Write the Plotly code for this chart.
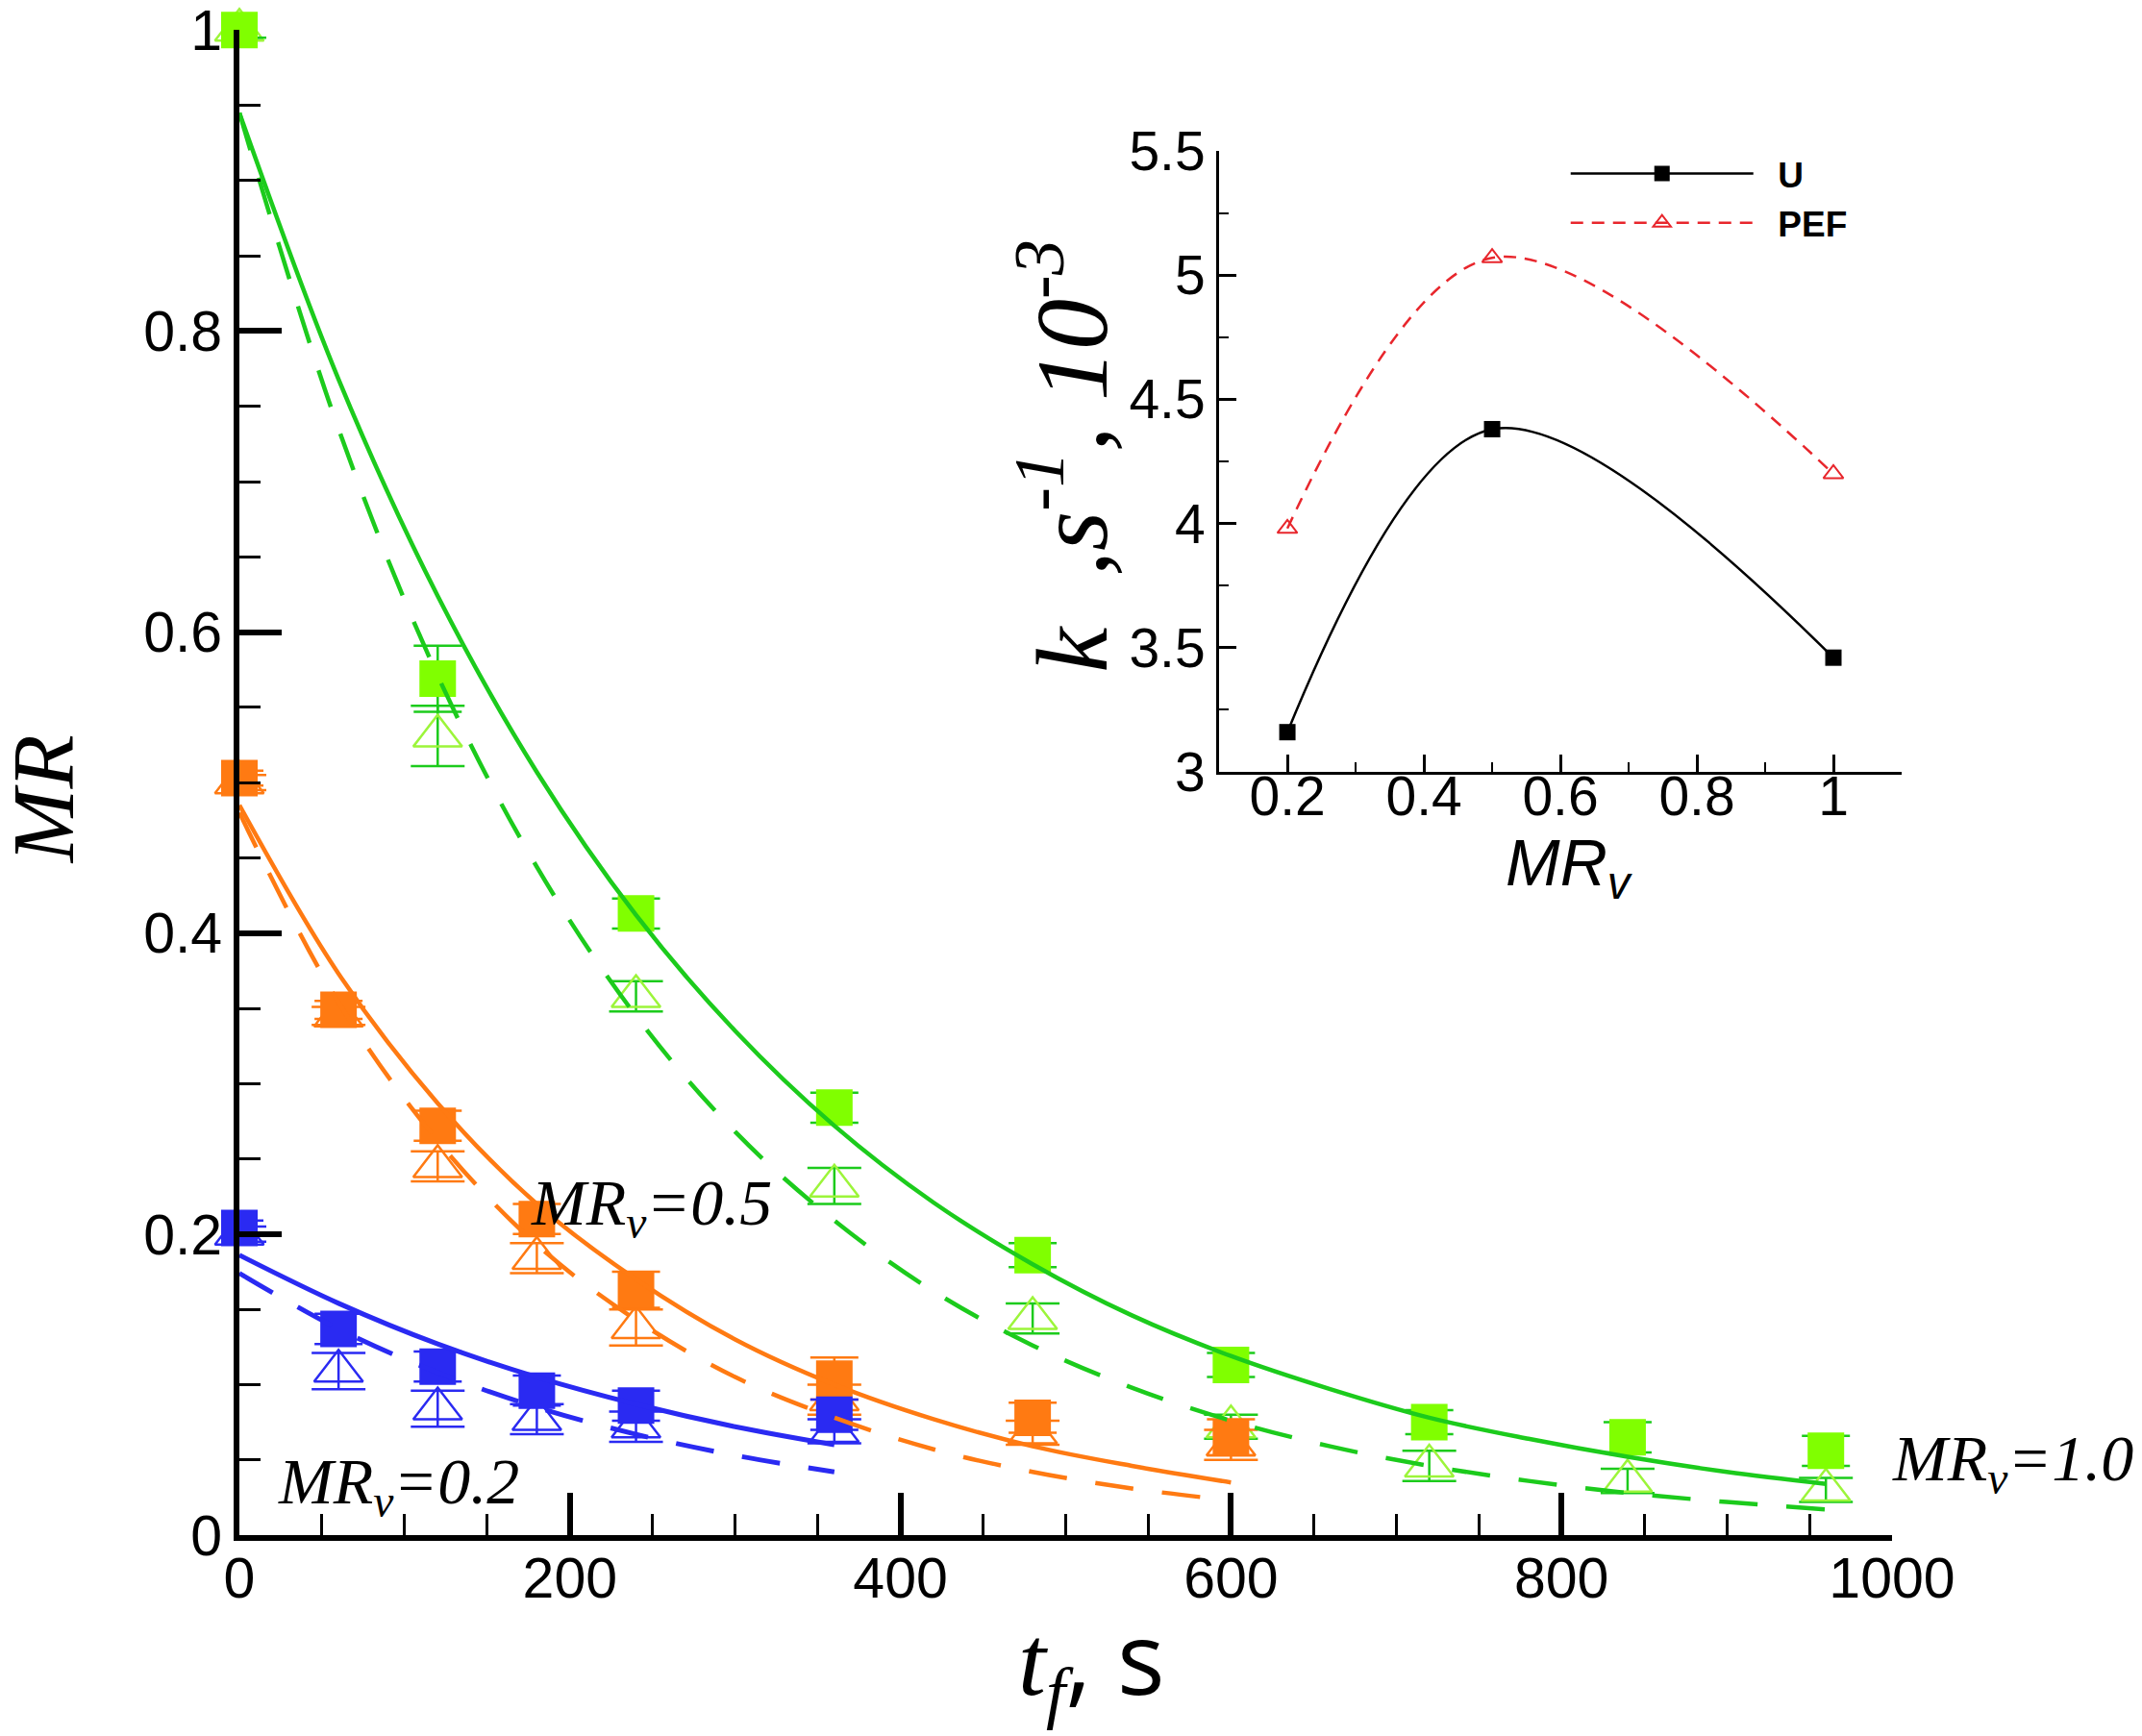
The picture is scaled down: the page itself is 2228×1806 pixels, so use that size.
import plotly.graph_objects as go

# ---- data ----
# MRv = 1.0
t_10 = [0, 120, 240, 360, 480, 600, 720, 840, 960]
u_10 = [1.0, 0.569, 0.413, 0.284, 0.186, 0.113, 0.075, 0.065, 0.056]
u_10_err = [0.005, 0.022, 0.010, 0.010, 0.008, 0.008, 0.008, 0.010, 0.010]
pef_10 = [1.0, 0.531, 0.358, 0.232, 0.144, 0.072, 0.046, 0.036, 0.030]
pef_10_err = [0.005, 0.020, 0.010, 0.012, 0.010, 0.008, 0.010, 0.008, 0.008]

# MRv = 0.5
t_05 = [0, 60, 120, 180, 240, 360, 480, 600]
u_05 = [0.503, 0.349, 0.272, 0.210, 0.163, 0.104, 0.078, 0.065]
u_05_err = [0.005, 0.006, 0.010, 0.010, 0.012, 0.014, 0.010, 0.012]
pef_05 = [0.500, 0.345, 0.245, 0.184, 0.138, 0.090, 0.068, 0.060]
pef_05_err = [0.005, 0.006, 0.010, 0.010, 0.012, 0.010, 0.008, 0.010]

# MRv = 0.2
t_02 = [0, 60, 120, 180, 240, 360]
u_02 = [0.204, 0.137, 0.112, 0.096, 0.086, 0.080]
u_02_err = [0.005, 0.010, 0.010, 0.010, 0.010, 0.010]
pef_02 = [0.200, 0.109, 0.084, 0.077, 0.072, 0.069]
pef_02_err = [0.005, 0.012, 0.012, 0.010, 0.010, 0.008]

# fitted curves
fit_t_10 = [0, 60, 120, 180, 240, 300, 360, 420, 480, 540, 600, 660, 720, 780, 840, 900, 960]
fit_u_10 = [0.945, 0.768, 0.624, 0.507, 0.412, 0.335, 0.272, 0.221, 0.180, 0.146, 0.119,
            0.097, 0.078, 0.064, 0.052, 0.042, 0.034]
fit_pef_10 = [0.945, 0.735, 0.571, 0.444, 0.345, 0.268, 0.209, 0.162, 0.126, 0.098, 0.076,
              0.059, 0.046, 0.036, 0.028, 0.022, 0.017]
fit_t_05 = [0, 60, 120, 180, 240, 300, 360, 420, 480, 540, 600]
fit_u_05 = [0.485, 0.373, 0.287, 0.220, 0.170, 0.130, 0.100, 0.077, 0.059, 0.046, 0.035]
fit_pef_05 = [0.480, 0.354, 0.262, 0.193, 0.143, 0.105, 0.078, 0.057, 0.042, 0.031, 0.023]
fit_t_02 = [0, 60, 120, 180, 240, 300, 360]
fit_u_02 = [0.186, 0.154, 0.127, 0.105, 0.087, 0.072, 0.060]
fit_pef_02 = [0.174, 0.137, 0.108, 0.085, 0.067, 0.053, 0.042]

# inset: rate constant k (x10^-3 s^-1) vs MRv
mrv = [0.2, 0.5, 1.0]
k_u = [3.16, 4.38, 3.46]
k_pef = [3.98, 5.07, 4.20]

GREEN_FILL = "#80FF00"
GREEN_LINE = "#1CCB1C"
GREEN_OPEN = "#9CF53A"
ORANGE = "#FF7A12"
BLUE = "#2A2AF2"
RED = "#E8262C"

SANS = "Liberation Sans, Arial, sans-serif"
SERIF = "Liberation Serif, Times New Roman, serif"

fig = go.Figure()

groups = [
    (t_10, u_10, u_10_err, pef_10, pef_10_err, GREEN_FILL, GREEN_OPEN, GREEN_LINE),
    (t_05, u_05, u_05_err, pef_05, pef_05_err, ORANGE, ORANGE, ORANGE),
    (t_02, u_02, u_02_err, pef_02, pef_02_err, BLUE, BLUE, BLUE),
]

# markers first, the fitted lines sit on top of them
for t, u, ue, p, pe, fill, openc, errc in groups:
    fig.add_trace(go.Scatter(
        x=t, y=p, mode="markers", showlegend=False, cliponaxis=False,
        marker=dict(symbol="triangle-up-open", size=44, color=openc, line=dict(width=2.5)),
        error_y=dict(type="data", array=pe, color=errc, thickness=2.5, width=28),
    ))
    fig.add_trace(go.Scatter(
        x=t, y=u, mode="markers", showlegend=False, cliponaxis=False,
        marker=dict(symbol="square", size=38, color=fill, line=dict(width=0)),
        error_y=dict(type="data", array=ue, color=errc, thickness=2.5, width=25),
    ))

fits = [
    (fit_t_10, fit_u_10, fit_pef_10, GREEN_LINE, 4.5),
    (fit_t_05, fit_u_05, fit_pef_05, ORANGE, 4.5),
    (fit_t_02, fit_u_02, fit_pef_02, BLUE, 5),
]
for ft, fu, fp, col, w in fits:
    fig.add_trace(go.Scatter(x=ft, y=fu, mode="lines", showlegend=False,
                             line=dict(color=col, width=w, shape="spline")))
    fig.add_trace(go.Scatter(x=ft, y=fp, mode="lines", showlegend=False,
                             line=dict(color=col, width=w, shape="spline", dash="40px,30px")))

# inset
fig.add_trace(go.Scatter(
    x=mrv, y=k_u, name="\u00a0\u00a0U", mode="lines+markers", xaxis="x2", yaxis="y2",
    cliponaxis=False,
    line=dict(color="black", width=2.5, shape="spline", smoothing=1.0),
    marker=dict(symbol="square", size=17, color="black"),
))
fig.add_trace(go.Scatter(
    x=mrv, y=k_pef, name="\u00a0\u00a0PEF", mode="lines+markers", xaxis="x2", yaxis="y2",
    cliponaxis=False,
    line=dict(color=RED, width=2.5, shape="spline", smoothing=1.0, dash="13px,9px"),
    marker=dict(symbol="triangle-up-open", size=18, color=RED, line=dict(width=2)),
))

main_axis = dict(showline=True, linecolor="black", linewidth=6, mirror=False, automargin=False,
                 showgrid=False, zeroline=False, ticks="inside", ticklen=44,
                 tickwidth=6, tickcolor="black", ticklabeloverflow="allow",
                 tickfont=dict(family=SANS, size=59, color="black"))
inset_axis = dict(showline=True, linecolor="black", linewidth=3, mirror=False, automargin=False,
                  showgrid=False, zeroline=False, ticks="inside", ticklen=18,
                  tickwidth=3, tickcolor="black", ticklabeloverflow="allow",
                  tickfont=dict(family=SANS, size=57, color="black"))

fig.update_layout(
    width=2228, height=1806, autosize=False,
    margin=dict(l=249, r=250, t=31, b=209),
    paper_bgcolor="white", plot_bgcolor="white",
    xaxis=dict(main_axis, range=[0, 1000], domain=[0, 0.9942], dtick=200, tick0=0,
               ticklabelstandoff=-12,
               minor=dict(ticks="inside", ticklen=22, tickwidth=3, dtick=50, tickcolor="black")),
    yaxis=dict(main_axis, range=[0, 1.0002], dtick=0.2, tick0=0,
               minor=dict(ticks="inside", ticklen=22, tickwidth=3, dtick=0.05, tickcolor="black")),
    xaxis2=dict(inset_axis, range=[0.1, 1.1], domain=[0.5894, 1], anchor="y2",
                dtick=0.2, tick0=0.2, ticklabelstandoff=-26,
                minor=dict(ticks="inside", ticklen=10, tickwidth=2, dtick=0.1, tickcolor="black")),
    yaxis2=dict(inset_axis, range=[3, 5.5], domain=[0.507, 0.9195], anchor="x2",
                dtick=0.5, tick0=3,
                minor=dict(ticks="inside", ticklen=10, tickwidth=2, dtick=0.25, tickcolor="black")),
    showlegend=True,
    legend=dict(x=0.798, y=0.924, xanchor="left", yanchor="top", itemwidth=190,
                bgcolor="rgba(0,0,0,0)", tracegroupgap=0,
                font=dict(family=SANS, size=37, color="black", weight="bold")),
)

annotations = [
    dict(text="<i>MR</i>", x=-0.118, y=0.489, textangle=-90,
         font=dict(family=SERIF, size=92)),
    dict(text="<i>t<sub>f</sub></i><span style=\"font-family:Open Sans\">, s</span>",
         x=0.513, y=-0.083, font=dict(family=SERIF, size=104)),
    dict(text="<i>MR<sub>v</sub>=0.5</i>", x=0.248, y=0.218, font=dict(family=SERIF, size=68)),
    dict(text="<i>MR<sub>v</sub>=0.2</i>", x=0.096, y=0.033, font=dict(family=SERIF, size=68)),
    dict(text="<i>MR<sub>v</sub>=1.0</i>", x=1.067, y=0.048, font=dict(family=SERIF, size=68)),
    dict(text="<i>k\u00a0\u00a0,s<sup>-1</sup>, 10<sup>-3</sup></i>", x=0.4965, y=0.717,
         textangle=-90, font=dict(family=SERIF, size=106)),
    dict(text="<i>MR<sub>v</sub></i>", x=0.800, y=0.444, font=dict(family=SANS, size=68)),
]
for a in annotations:
    a.update(xref="paper", yref="paper", showarrow=False, xanchor="center", yanchor="middle")
    a["font"]["color"] = "black"
    fig.add_annotation(**a)

fig.write_html("out.html", config={"displayModeBar": False},
               post_script="document.body.style.margin='0';"
                           "document.documentElement.style.overflow='hidden';")
